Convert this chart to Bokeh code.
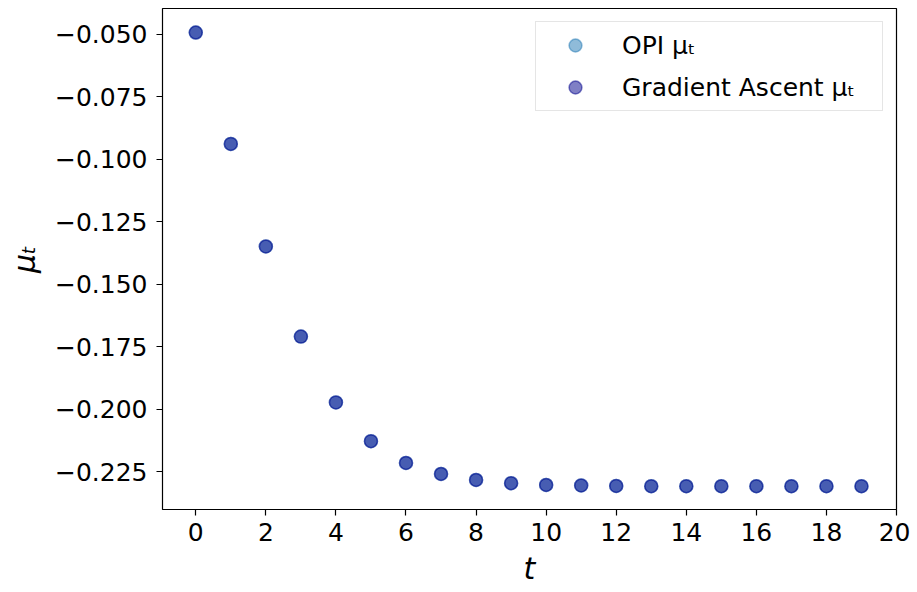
from bokeh.plotting import figure
from bokeh.models import Range1d, FixedTicker, CustomJSTickFormatter, Legend, LegendItem
from bokeh.embed import file_html
from bokeh.resources import INLINE

t_values = list(range(20))
opi_mu = [-0.0494, -0.0939, -0.1349, -0.1709, -0.1972, -0.2127, -0.2214, -0.2258,
          -0.2282, -0.2295, -0.2302, -0.2304, -0.2306, -0.2307, -0.2307, -0.2307,
          -0.2307, -0.2307, -0.2307, -0.2307]
ga_mu = [-0.0494, -0.0939, -0.1349, -0.1709, -0.1972, -0.2127, -0.2214, -0.2258,
         -0.2282, -0.2295, -0.2302, -0.2304, -0.2306, -0.2307, -0.2307, -0.2307,
         -0.2307, -0.2307, -0.2307, -0.2307]
x_ticks = [0, 2, 4, 6, 8, 10, 12, 14, 16, 18, 20]
y_ticks = [-0.225, -0.2, -0.175, -0.15, -0.125, -0.1, -0.075, -0.05]

p = figure(width=910, height=588, output_backend="svg", toolbar_location=None,
           x_range=Range1d(-0.95, 20.0), y_range=Range1d(-0.2400, -0.0398),
           min_border_left=162, min_border_right=14, min_border_top=8, min_border_bottom=76)

p.background_fill_color = "white"
p.border_fill_color = "white"
p.outline_line_color = "black"
p.outline_line_width = 1.2
p.xgrid.visible = False
p.ygrid.visible = False

r1 = p.scatter(t_values, opi_mu, size=13, fill_color="#1f77b4", fill_alpha=0.5,
               line_color="#1f77b4", line_alpha=0.5, line_width=1.5)
r2 = p.scatter(t_values, ga_mu, size=13, fill_color="#00008b", fill_alpha=0.5,
               line_color="#00008b", line_alpha=0.5, line_width=1.5)

for ax in (p.xaxis[0], p.yaxis[0]):
    ax.major_label_text_font = "DejaVu Sans"
    ax.major_label_text_font_size = "25px"
    ax.major_label_text_color = "black"
    ax.axis_label_text_font = "DejaVu Sans"
    ax.axis_label_text_font_size = "30px"
    ax.axis_label_text_font_style = "italic"
    ax.axis_label_text_color = "black"
    ax.axis_line_color = None
    ax.major_tick_line_color = "black"
    ax.major_tick_line_width = 1.2
    ax.major_tick_out = 6
    ax.major_tick_in = 0
    ax.minor_tick_line_color = None

p.xaxis.ticker = FixedTicker(ticks=x_ticks)
p.yaxis.ticker = FixedTicker(ticks=y_ticks)
p.yaxis.formatter = CustomJSTickFormatter(code="""
return (tick < 0 ? "\u2212" : "") + Math.abs(tick).toFixed(3);
""")
p.xaxis.major_label_standoff = 7
p.yaxis.major_label_standoff = 9
p.xaxis.axis_label = "t"
p.yaxis.axis_label = "μₜ"
p.xaxis.axis_label_standoff = 7
p.yaxis.axis_label_standoff = 10

legend = Legend(items=[LegendItem(label="OPI μₜ", renderers=[r1]),
                       LegendItem(label="Gradient Ascent μₜ", renderers=[r2])],
                location="top_right")
legend.margin = 13
legend.padding = 7
legend.spacing = 10
legend.glyph_width = 64
legend.glyph_height = 32
legend.label_standoff = 15
legend.label_width = 253
legend.label_text_font = "DejaVu Sans"
legend.label_text_font_size = "25px"
legend.label_text_color = "black"
legend.border_line_color = "#cccccc"
legend.border_line_width = 1.2
legend.background_fill_alpha = 0.8
p.add_layout(legend, "center")

open("out.html", "w").write(file_html(p, INLINE))
